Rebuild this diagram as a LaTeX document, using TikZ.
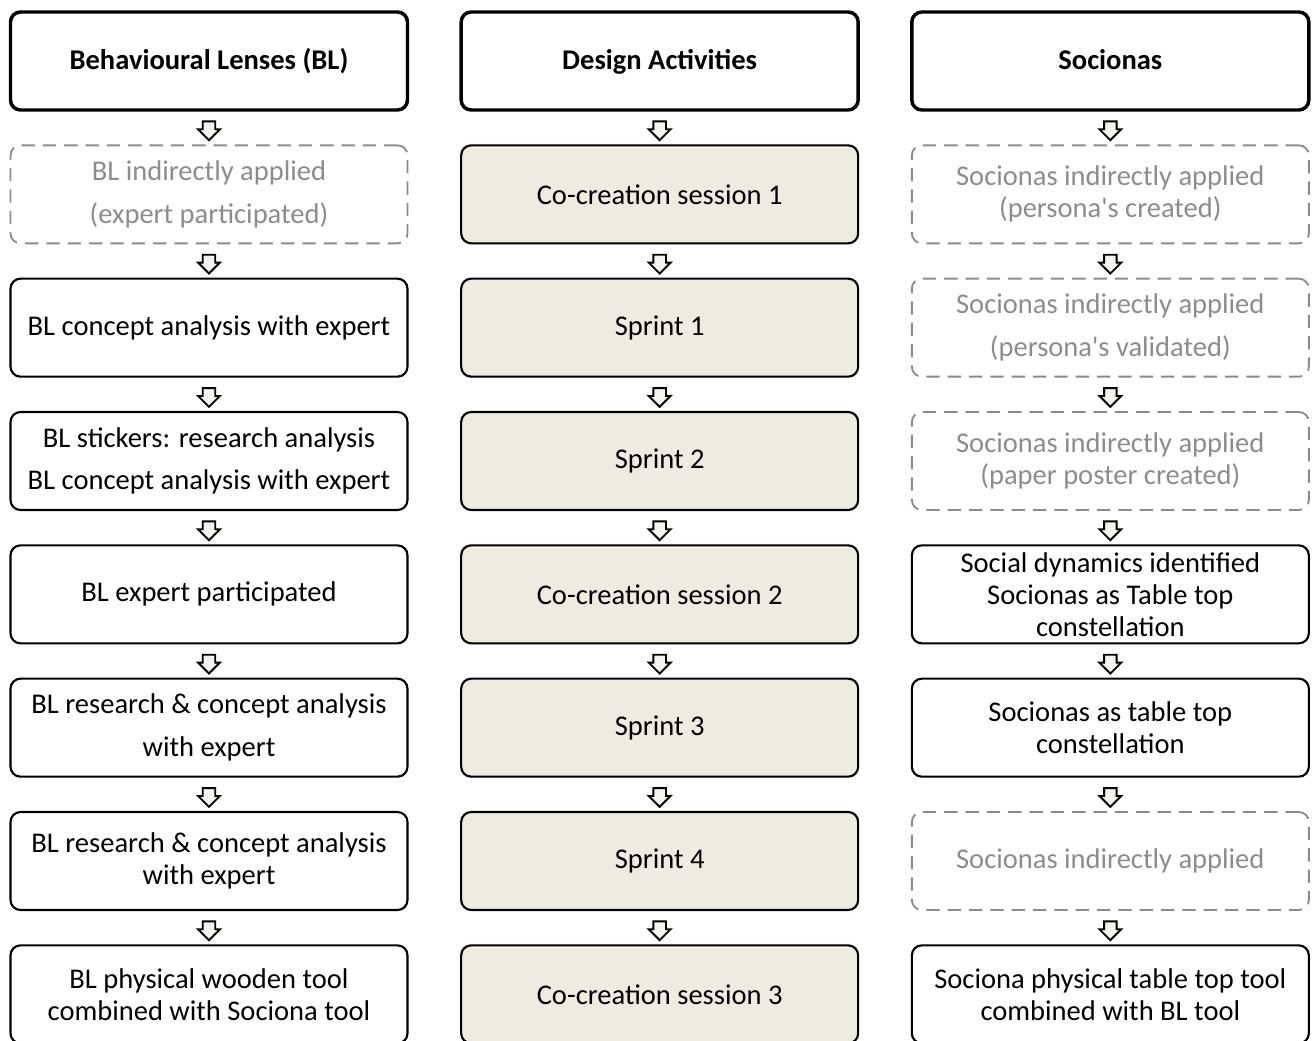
\documentclass[tikz,border=0pt]{standalone}
\usepackage{fontspec}
\setmainfont{Carlito}
\usepackage{xcolor}
\usetikzlibrary{positioning,shapes.arrows}

\definecolor{sandfill}{HTML}{EEEBE1}
\definecolor{ghostgray}{HTML}{8C8C8C}

\begin{document}
\begin{tikzpicture}[
  every node/.style={align=center, font=\fontsize{21.4}{24}\selectfont},
  box/.style={draw, rounded corners=7.5pt, line width=1.6pt, minimum width=297.75pt, minimum height=73.5pt, inner sep=2pt, outer sep=0pt},
  head/.style={box, line width=2.6pt, font=\fontsize{21.4}{24}\selectfont\bfseries, text height=15pt, text depth=1.5pt},
  mid/.style={box, fill=sandfill},
  ghost/.style={box, draw=ghostgray, text=ghostgray, dashed, dash pattern=on 10pt off 6pt, line width=1.4pt},
  arr/.style={draw, line width=1.4pt, fill=sandfill!60, single arrow, shape border rotate=270, inner sep=4pt, single arrow head extend=3.5pt, minimum height=13.5pt},
  node distance=26.5pt and 40.25pt
]
\useasboundingbox (0,0) rectangle (984pt,-780.75pt);

% left column
\node[head] (l0) at (156.75pt,-45.75pt) {Behavioural Lenses (BL)};
\node[ghost, below=of l0] (l1) {BL indirectly applied\\[8pt](expert participated)};
\node[box, below=of l1] (l2) {BL concept analysis with expert};
\node[box, below=of l2] (l3) {BL stickers: research analysis\\[8pt]BL concept analysis with expert};
\node[box, below=of l3] (l4) {BL expert participated};
\node[box, below=of l4] (l5) {BL research \& concept analysis\\[8pt]with expert};
\node[box, below=of l5] (l6) {BL research \& concept analysis\\with expert};
\node[box, below=of l6] (l7) {BL physical wooden tool\\combined with Sociona tool};

% middle column
\node[head, right=of l0] (m0) {Design Activities};
\node[mid, below=of m0] (m1) {Co-creation session 1};
\node[mid, below=of m1] (m2) {Sprint 1};
\node[mid, below=of m2] (m3) {Sprint 2};
\node[mid, below=of m3] (m4) {Co-creation session 2};
\node[mid, below=of m4] (m5) {Sprint 3};
\node[mid, below=of m5] (m6) {Sprint 4};
\node[mid, below=of m6] (m7) {Co-creation session 3};

% right column
\node[head, right=of m0] (r0) {Socionas};
\node[ghost, below=of r0] (r1) {Socionas indirectly applied\\(persona\textquotesingle s created)};
\node[ghost, below=of r1] (r2) {Socionas indirectly applied\\[8pt](persona\textquotesingle s validated)};
\node[ghost, below=of r2] (r3) {Socionas indirectly applied\\(paper poster created)};
\node[box, below=of r3] (r4) {Social dynamics identified\\Socionas as Table top\\constellation};
\node[box, below=of r4] (r5) {Socionas as table top\\constellation};
\node[ghost, below=of r5] (r6) {Socionas indirectly applied};
\node[box, below=of r6] (r7) {Sociona physical table top tool\\combined with BL tool};

% arrows
\foreach \c in {l,m,r}
  \foreach \i/\j in {0/1,1/2,2/3,3/4,4/5,5/6,6/7}
    \path (\c\i.south) -- node[arr]{} (\c\j.north);
\end{tikzpicture}
\end{document}
